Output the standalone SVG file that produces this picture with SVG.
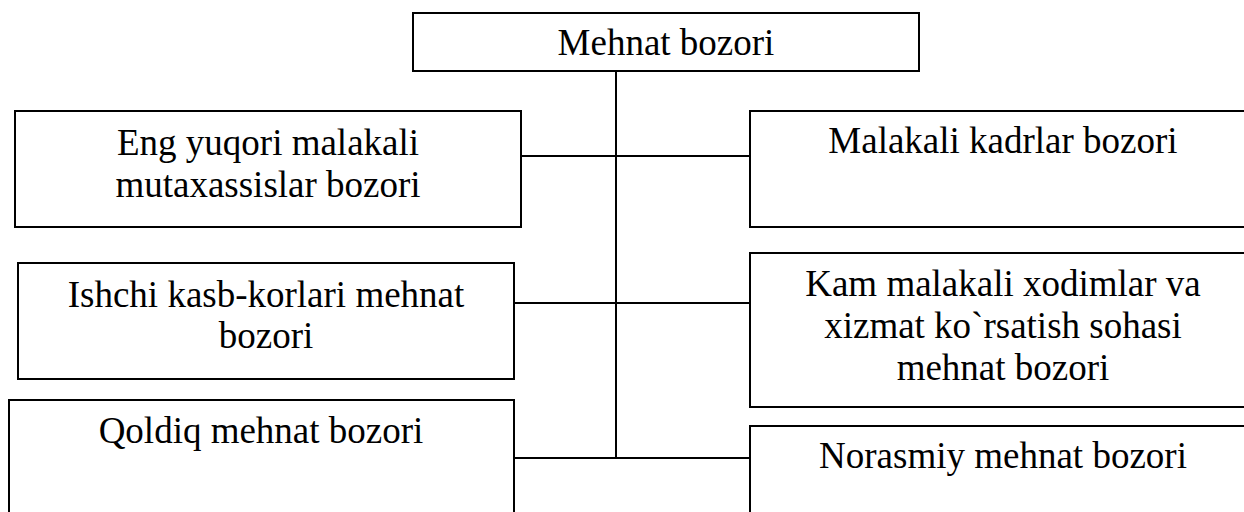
<svg xmlns="http://www.w3.org/2000/svg" width="1244" height="512" viewBox="0 0 1244 512">
<style>
.box{fill:#fff;stroke:#000;stroke-width:2}
.t{font-family:'Liberation Serif','Times New Roman','DejaVu Serif',serif;font-size:37px;fill:#000;text-anchor:middle}
.c{stroke:#000;stroke-width:2;fill:none}
</style>
<rect width="1244" height="512" fill="#fff"/>
<g id="connectors">
<line class="c" x1="616" y1="71" x2="616" y2="458"/>
<line class="c" x1="516" y1="156" x2="750" y2="156"/>
<line class="c" x1="514" y1="303" x2="750" y2="303"/>
<line class="c" x1="514" y1="458" x2="750" y2="458"/>
</g>
<g id="n-root">
<rect class="box" x="413" y="13" width="506" height="58"/>
<text class="t" x="666" y="55">Mehnat bozori</text>
</g>
<g id="n-eng">
<rect class="box" x="15" y="111" width="506" height="116"/>
<text class="t" x="268" y="155">Eng yuqori malakali</text>
<text class="t" x="268" y="197">mutaxassislar bozori</text>
</g>
<g id="n-malakali">
<rect class="box" x="750" y="111" width="506" height="116"/>
<text class="t" x="1003" y="153">Malakali kadrlar bozori</text>
</g>
<g id="n-ishchi">
<rect class="box" x="18" y="263" width="496" height="116"/>
<text class="t" x="266" y="307">Ishchi kasb-korlari mehnat</text>
<text class="t" x="266" y="348">bozori</text>
</g>
<g id="n-kam">
<rect class="box" x="750" y="253" width="506" height="154"/>
<text class="t" x="1003" y="296">Kam malakali xodimlar va</text>
<text class="t" x="1003" y="338">xizmat ko`rsatish sohasi</text>
<text class="t" x="1003" y="380">mehnat bozori</text>
</g>
<g id="n-qoldiq">
<rect class="box" x="9" y="400" width="505" height="130"/>
<text class="t" x="261" y="443">Qoldiq mehnat bozori</text>
</g>
<g id="n-norasmiy">
<rect class="box" x="750" y="426" width="506" height="110"/>
<text class="t" x="1003" y="468">Norasmiy mehnat bozori</text>
</g>
</svg>
